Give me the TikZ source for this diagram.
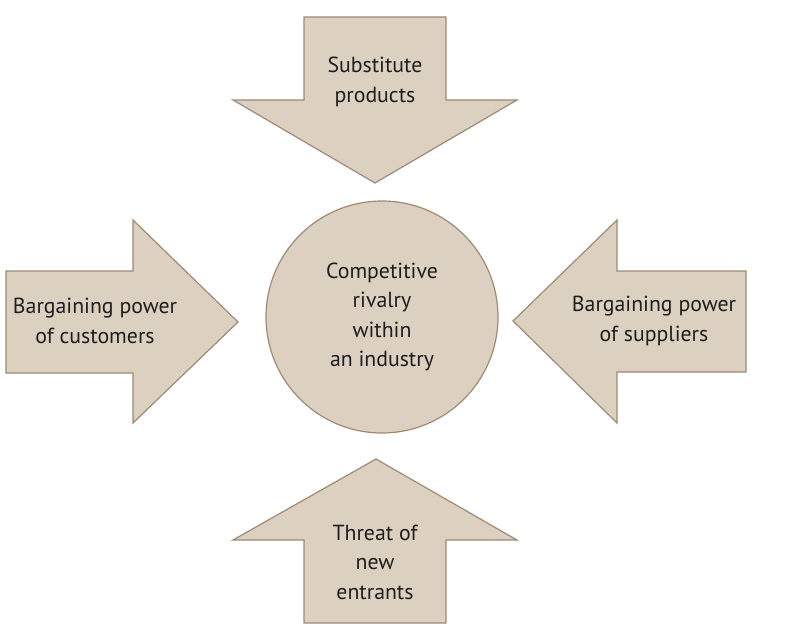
\documentclass[tikz,border=0pt]{standalone}
\usepackage{fontspec}
\setmainfont{PT Sans}
\usetikzlibrary{positioning}
\definecolor{forcefill}{RGB}{220,208,193}
\definecolor{forceline}{RGB}{158,138,118}
\definecolor{forceink}{RGB}{30,30,30}
\tikzstyle{force} = [draw=forceline, fill=forcefill, line width=1.2pt, line join=miter]
\tikzstyle{forcetext} = [align=center, text=forceink, font=\fontsize{21.8}{29.5}\selectfont]
\tikzstyle{rivalry} = [circle, minimum size=232pt, inner sep=0pt, draw=forceline, fill=forcefill, line width=1.2pt, forcetext]

\begin{document}
\begin{tikzpicture}[x=1pt, y=-1pt]
        \useasboundingbox (0,0) rectangle (808,639);

        % Arrows
        \draw [force] (304,17) -- (446,17) -- (446,100) -- (517,100) -- (375,183) -- (233,100) -- (304,100) -- cycle;
        \draw [force] (6,271) -- (133,271) -- (133,220) -- (238,322) -- (133,423) -- (133,373) -- (6,373) -- cycle;
        \draw [force] (746,271) -- (617,271) -- (617,220) -- (513,321) -- (617,423) -- (617,372) -- (746,372) -- cycle;
        \draw [force] (304,623) -- (446,623) -- (446,540) -- (517,540) -- (376,459) -- (233,540) -- (304,540) -- cycle;

        % Rivalry (Center)
        \node (rival) [rivalry] at (382,317) {Competitive\\rivalry\\within\\an industry};

        % Forces
        \node (subst) [forcetext] at (375,82) {Substitute\\products};
        \node (cust) [forcetext] at (95,321) {Bargaining power\\of customers};
        \node (supp) [forcetext] at (654,321) {Bargaining power\\of suppliers};
        \node (entr) [forcetext] at (375,562) {Threat of\\new\\entrants};

\end{tikzpicture}
\end{document}
